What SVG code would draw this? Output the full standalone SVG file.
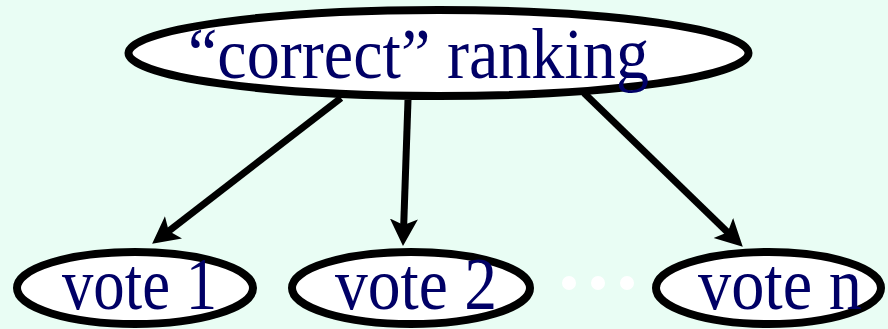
<svg xmlns="http://www.w3.org/2000/svg" width="888" height="329" viewBox="0 0 888 329">
  <style>
    .node { fill: #ffffff; stroke: #000000; stroke-width: 8; }
    .label { font-family: "Liberation Serif", "Times New Roman", serif; fill: #000066; }
    .edge { stroke: #000000; stroke-width: 7; fill: none; marker-end: url(#head); }
    .dot { fill: #ffffff; }
  </style>
  <defs>
    <marker id="head" markerUnits="userSpaceOnUse" markerWidth="30" markerHeight="30" refX="12" refY="14" orient="auto">
      <path d="M0,0 L27,14 L0,28 L6,14 z" fill="#000000"/>
    </marker>
  </defs>

  <rect x="0" y="0" width="888" height="329" fill="#e9fdf4"/>

  <g id="correct-ranking">
    <ellipse class="node" cx="438.5" cy="53" rx="310" ry="43"/>
    <text class="label" x="188" y="78" font-size="72" textLength="461" lengthAdjust="spacingAndGlyphs">“correct” ranking</text>
  </g>

  <g id="vote-1">
    <ellipse class="node" cx="135" cy="288" rx="118" ry="36"/>
    <text class="label" x="62" y="309" font-size="74" textLength="155" lengthAdjust="spacingAndGlyphs">vote 1</text>
  </g>

  <g id="vote-2">
    <ellipse class="node" cx="411" cy="288" rx="119" ry="36"/>
    <text class="label" x="335" y="309" font-size="74" textLength="162" lengthAdjust="spacingAndGlyphs">vote 2</text>
  </g>

  <g id="ellipsis">
    <circle class="dot" cx="569" cy="283" r="7"/>
    <circle class="dot" cx="598" cy="283" r="7"/>
    <circle class="dot" cx="627" cy="283" r="7"/>
  </g>

  <g id="vote-n">
    <ellipse class="node" cx="768.5" cy="288" rx="112.5" ry="36"/>
    <text class="label" x="698" y="309" font-size="74" textLength="164" lengthAdjust="spacingAndGlyphs">vote n</text>
  </g>

  <g id="connectors">
    <line class="edge" x1="341" y1="98" x2="164" y2="234.7"/>
    <line class="edge" x1="408" y1="100" x2="403.5" y2="231"/>
    <line class="edge" x1="584" y1="93" x2="732" y2="236.4"/>
  </g>
</svg>
